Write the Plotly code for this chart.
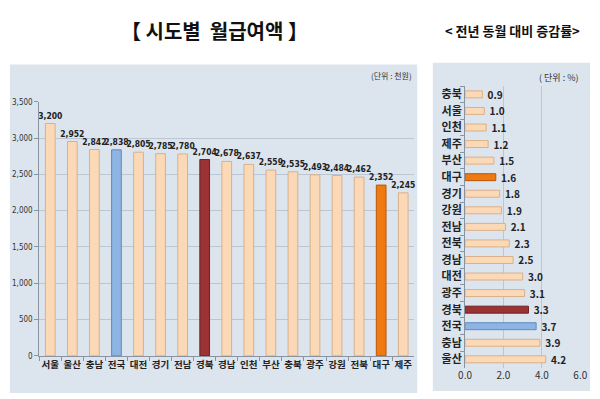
import plotly.graph_objects as go

# Data
regions = ["서울", "울산", "충남", "전국", "대전", "경기", "전남", "경북", "경남",
           "인천", "부산", "충북", "광주", "강원", "전북", "대구", "제주"]
wages = [3200, 2952, 2842, 2838, 2805, 2785, 2780, 2704, 2678,
         2637, 2559, 2535, 2493, 2484, 2462, 2352, 2245]

rate_regions = ["충북", "서울", "인천", "제주", "부산", "대구", "경기", "강원", "전남",
                "전북", "경남", "대전", "광주", "경북", "전국", "충남", "울산"]
rates = [0.9, 1.0, 1.1, 1.2, 1.5, 1.6, 1.8, 1.9, 2.1,
         2.3, 2.5, 3.0, 3.1, 3.3, 3.7, 3.9, 4.2]

y_ticks = [0, 500, 1000, 1500, 2000, 2500, 3000, 3500]
x_ticks = [0, 2, 4, 6]

PEACH = "#FCD9B6"
PEACH_LINE = "#D9B08A"
highlight = {"전국": ("#8DB4E2", "#5E8CC0"), "경북": ("#9B3334", "#6E2020"),
             "대구": ("#EF7A12", "#B9560A")}

def colors(cats):
    fill = [highlight.get(c, (PEACH, PEACH_LINE))[0] for c in cats]
    line = [highlight.get(c, (PEACH, PEACH_LINE))[1] for c in cats]
    return fill, line

W, H = 600, 399
FONT = "Noto Sans CJK KR"
NARROW = "DejaVu Sans Condensed, Liberation Sans Narrow, Noto Sans CJK KR"

fig = go.Figure()

f1, l1 = colors(regions)
fig.add_trace(go.Bar(
    x=regions, y=wages, xaxis="x", yaxis="y",
    marker=dict(color=f1, line=dict(color=l1, width=1)),
    width=0.44,
    text=[f"{v:,}" for v in wages], textposition="outside",
    textfont=dict(family=NARROW, size=8.5, color="#222"),
    texttemplate="<b>%{text}</b>", cliponaxis=False, constraintext="none",
    showlegend=False, hoverinfo="x+y",
))

f2, l2 = colors(rate_regions)
fig.add_trace(go.Bar(
    x=rates, y=rate_regions, orientation="h", xaxis="x2", yaxis="y2",
    marker=dict(color=f2, line=dict(color=l2, width=1)),
    width=0.42,
    text=[f" {v:.1f}" for v in rates], textposition="outside",
    textfont=dict(family=FONT, size=10, color="#222"),
    texttemplate="<b>%{text}</b>", cliponaxis=False, constraintext="none",
    showlegend=False, hoverinfo="x+y",
))

def px(x):
    return x / W

def py(y):
    return 1 - y / H

BG = "#DCE4EE"
GRID = "#BCC6D3"
AX = "#8A93A0"

fig.update_layout(
    width=W, height=H,
    margin=dict(l=0, r=0, t=0, b=0),
    paper_bgcolor="white", plot_bgcolor="rgba(0,0,0,0)",
    font=dict(family=FONT, color="#222"),
    xaxis=dict(domain=[px(33), px(417)], anchor="y", tickangle=0,
               tickfont=dict(family=FONT, size=9.5, color="#222"),
               tickprefix="<b>", ticksuffix="</b>",
               showline=True, linecolor=AX, linewidth=1,
               ticks="outside", tickson="boundaries", ticklen=4, tickcolor=AX,
               showgrid=False, fixedrange=True),
    yaxis=dict(domain=[py(360), py(100)], anchor="x", range=[0, 3500],
               tickvals=y_ticks, ticktext=[f"{v:,}" for v in y_ticks],
               tickfont=dict(family=NARROW, size=8, color="#333"),
               showline=True, linecolor=AX, linewidth=1,
               ticks="outside", ticklen=4, tickcolor=AX,
               showgrid=True, gridcolor=GRID, gridwidth=1,
               zeroline=False, fixedrange=True),
    xaxis2=dict(domain=[px(469), px(587)], anchor="y2", range=[0, 6],
                tickvals=x_ticks, ticktext=[f"{v:.1f}" for v in x_ticks],
                tickfont=dict(family=FONT, size=10, color="#333"),
                showline=False, showgrid=True, gridcolor=GRID, gridwidth=1,
                zeroline=False, fixedrange=True),
    yaxis2=dict(domain=[py(372), py(84)], anchor="x2",
                autorange="reversed",
                tickfont=dict(family=FONT, size=11, color="#222"),
                tickprefix="<b>", ticksuffix="</b>",
                showline=True, linecolor=AX, linewidth=1,
                ticks="outside", tickson="boundaries", ticklen=4, tickcolor=AX,
                showgrid=False, fixedrange=True),
    shapes=[
        dict(type="rect", xref="paper", yref="paper",
             x0=px(3), x1=px(420), y0=py(398), y1=py(62),
             fillcolor=BG, line=dict(width=0), layer="below"),
        dict(type="rect", xref="paper", yref="paper",
             x0=px(436), x1=px(597), y0=py(396), y1=py(60),
             fillcolor=BG, line=dict(width=0), layer="below"),
    ],
    annotations=[
        dict(text="<b>【 시도별  월급여액 】</b>", x=px(212), y=py(27),
             xref="paper", yref="paper", showarrow=False,
             xanchor="center", yanchor="middle",
             font=dict(family=FONT, size=20, color="#111")),
        dict(text="<b>< 전년 동월 대비 증감률></b>", x=px(518), y=py(27),
             xref="paper", yref="paper", showarrow=False,
             xanchor="center", yanchor="middle",
             font=dict(family=FONT, size=13, color="#111")),
        dict(text="(단위 : 천원)", x=px(417), y=py(73),
             xref="paper", yref="paper", showarrow=False,
             xanchor="right", yanchor="middle",
             font=dict(family=FONT, size=8, color="#333")),
        dict(text="( 단위 : %)", x=px(587), y=py(75),
             xref="paper", yref="paper", showarrow=False,
             xanchor="right", yanchor="middle",
             font=dict(family=FONT, size=9, color="#333")),
    ],
)

fig.write_html("out.html", config={"displayModeBar": False},
               post_script="document.body.style.margin='0';document.body.style.padding='0';")
